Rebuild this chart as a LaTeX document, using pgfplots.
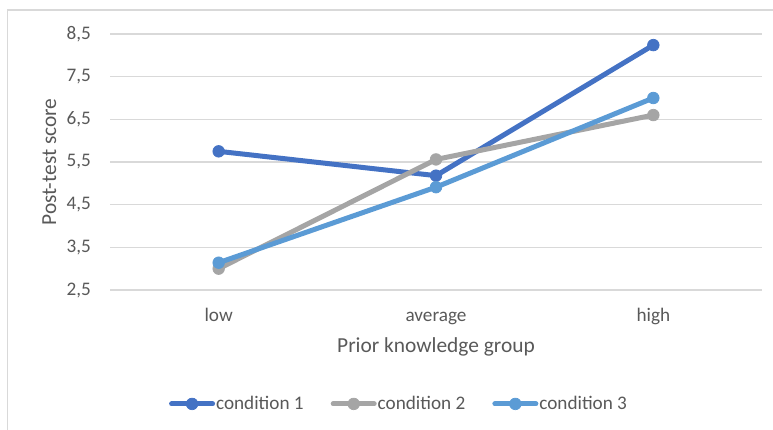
\documentclass[border=0pt]{standalone}
\usepackage{pgfplots}
\pgfplotsset{compat=1.18}
\usepackage{fontspec}
\setmainfont{Carlito}
\definecolor{cOne}{HTML}{4472C4}
\definecolor{cTwo}{HTML}{A5A5A5}
\definecolor{cThree}{HTML}{5B9BD5}
\definecolor{gridc}{HTML}{D9D9D9}
\definecolor{txt}{HTML}{595959}

\begin{document}
\begin{tikzpicture}
\path[use as bounding box] (0bp,0bp) rectangle (773bp,430bp);
\begin{scope}
  \clip (0bp,0bp) rectangle (773bp,430bp);
  \draw[gridc, line width=1.5bp] (7.3bp,-10bp) rectangle (790bp,420bp);
\end{scope}
\begin{axis}[
  at={(110bp,140bp)}, anchor=south west,
  scale only axis, width=652bp, height=256bp,
  xmin=-0.5, xmax=2.5, ymin=2.5, ymax=8.5,
  clip=false,
  xtick={0,1,2}, xticklabels={low,average,high},
  ytick={2.5,3.5,4.5,5.5,6.5,7.5,8.5},
  yticklabels={{2,5},{3,5},{4,5},{5,5},{6,5},{7,5},{8,5}},
  axis line style={draw=none},
  major tick length=0pt,
  ymajorgrids, grid style={gridc, line width=1.5bp},
  tick label style={font=\fontsize{19.2bp}{23bp}\selectfont, text=txt, inner sep=0pt},
  yticklabel style={anchor=east, xshift=-19bp},
  xticklabel style={anchor=base, yshift=-31bp},
  xlabel={Prior knowledge group}, ylabel={Post-test score},
  label style={font=\fontsize{21.4bp}{26bp}\selectfont, text=txt, inner sep=0pt},
  xlabel style={at={(axis description cs:0.5,-0.245)}, anchor=base},
  ylabel style={at={(axis description cs:-0.0828,0.5)}, anchor=base},
  legend columns=-1,
  legend style={at={(axis description cs:0.0903,-0.445)}, anchor=west,
    draw=none, fill=none, inner sep=0pt,
    font=\fontsize{19.2bp}{23bp}\selectfont, text=txt,
    nodes={inner sep=0pt, outer sep=0pt},
    /tikz/every odd column/.style={column sep=1bp},
    /tikz/every even column/.style={column sep=27bp}},
  legend image code/.code={\draw[line cap=round,mark repeat=2,mark phase=2] plot coordinates {(0bp,0bp) (20.5bp,0bp) (41bp,0bp)};},
  every axis plot/.append style={line width=5bp, line join=round, mark=*, mark size=5.8bp},
]
\addplot[cOne, mark options={fill=cOne, line width=0.75bp}] coordinates {(0,5.75) (1,5.18) (2,8.24)};
\addlegendentry{condition 1}
\addplot[cTwo, mark options={fill=cTwo, line width=0.75bp}] coordinates {(0,3.00) (1,5.56) (2,6.60)};
\addlegendentry{condition 2}
\addplot[cThree, mark options={fill=cThree, line width=0.75bp}] coordinates {(0,3.14) (1,4.91) (2,7.00)};
\addlegendentry{condition 3}
\end{axis}
\end{tikzpicture}
\end{document}
